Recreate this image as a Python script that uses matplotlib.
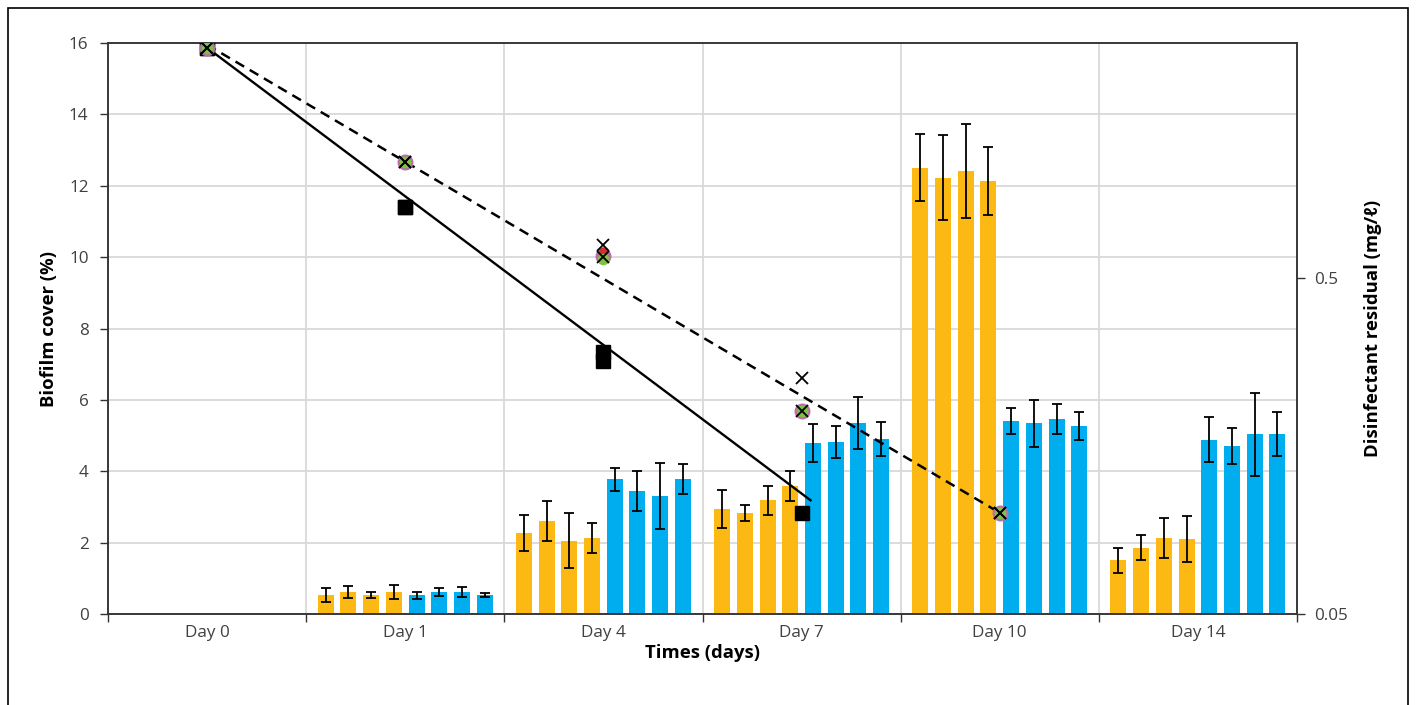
import numpy as np
import matplotlib.pyplot as plt
import matplotlib.ticker as mticker
from matplotlib.patches import Rectangle

plt.rcParams['font.family'] = ['Open Sans', 'DejaVu Sans']

# Datos
days = ['Day 0', 'Day 1', 'Day 4', 'Day 7', 'Day 10', 'Day 14']

# Biofilm cover (%) - 4 naranjas + 4 azules por día (Day 0 sin barras)
orange_vals = [
    [0, 0, 0, 0],
    [0.53, 0.62, 0.53, 0.62],
    [2.27, 2.61, 2.05, 2.13],
    [2.94, 2.83, 3.19, 3.59],
    [12.50, 12.22, 12.41, 12.13],
    [1.51, 1.85, 2.13, 2.10],
]
orange_err = [
    [0, 0, 0, 0],
    [0.20, 0.16, 0.08, 0.19],
    [0.50, 0.56, 0.77, 0.43],
    [0.53, 0.22, 0.41, 0.43],
    [0.94, 1.19, 1.32, 0.96],
    [0.35, 0.35, 0.57, 0.65],
]
blue_vals = [
    [0, 0, 0, 0],
    [0.53, 0.62, 0.62, 0.53],
    [3.78, 3.45, 3.31, 3.78],
    [4.79, 4.82, 5.35, 4.90],
    [5.41, 5.35, 5.46, 5.27],
    [4.88, 4.71, 5.04, 5.04],
]
blue_err = [
    [0, 0, 0, 0],
    [0.10, 0.12, 0.13, 0.05],
    [0.32, 0.56, 0.92, 0.43],
    [0.54, 0.46, 0.72, 0.47],
    [0.36, 0.66, 0.43, 0.39],
    [0.63, 0.51, 1.16, 0.62],
]

# Disinfectant residual (mg/l)
sq_a_x = [0, 1, 2, 3]
sq_a = [2.42, 0.81, 0.301, 0.100]
sq_b_x = [0, 1, 2]
sq_b = [2.42, 0.81, 0.283]
res_x = [0, 1, 2, 3, 4]
pink_res = [2.42, 1.11, 0.581, 0.201, 0.100]
green_res = [2.42, 1.11, 0.570, 0.201, 0.100]
red_res = [2.42, 1.11, 0.601, 0.201, 0.100]
cross_a = [2.42, 1.11, 0.625, 0.252, 0.100]
cross_b = [2.42, 1.11, 0.578, 0.201, 0.100]

# Líneas de tendencia
trend_solid_x = [0, 3.045]
trend_solid_y = [2.42, 0.109]
trend_dash_x = [0, 4]
trend_dash_y = [2.47, 0.100]

c_orange = '#FDB913'
c_blue = '#00AEEF'
grid_c = '#d9d9d9'
txt_c = '#404040'

fig = plt.figure(figsize=(14.16, 7.05), dpi=100)
ax = fig.add_axes([108 / 1416, 1 - 614 / 705, (1297 - 108) / 1416, (614 - 43) / 705])

slot = 0.1146
bw = 0.0806
ekw = dict(ecolor='black', elinewidth=1.3, capsize=3.5, capthick=1.3)
x = np.arange(len(days))
for i in range(len(days)):
    if i == 0:
        continue
    for j in range(4):
        ax.bar(x[i] + (j - 3.5) * slot, orange_vals[i][j], bw, color=c_orange, zorder=2,
               yerr=orange_err[i][j], error_kw=ekw)
        ax.bar(x[i] + (j + 0.5) * slot, blue_vals[i][j], bw, color=c_blue, zorder=2,
               yerr=blue_err[i][j], error_kw=ekw)

ax.set_xlim(-0.5, 5.5)
ax.set_ylim(0, 16)
ax.set_yticks(np.arange(0, 17, 2))
ax.set_xticks(np.arange(-0.5, 5.6, 1))
ax.set_xticks(x, minor=True)
ax.set_xticklabels([])
ax.set_xticklabels(days, minor=True)
ax.tick_params(axis='x', which='major', length=6, width=1, color='#333333', direction='out')
ax.tick_params(axis='x', which='minor', length=0, labelsize=12.3, labelcolor=txt_c, pad=8)
ax.tick_params(axis='y', length=6, width=1, color='#333333', labelsize=12.3, labelcolor=txt_c, pad=8)
ax.grid(True, which='major', color=grid_c, linewidth=1.3, zorder=0)
ax.set_axisbelow(True)
for s in ax.spines.values():
    s.set_color('#333333')
    s.set_linewidth(1.1)
ax.set_xlabel('Times (days)', fontsize=13.3, fontweight='bold', labelpad=2)
ax.set_ylabel('Biofilm cover (%)', fontsize=13.3, fontweight='bold', labelpad=8)

ax2 = ax.twinx()
ax2.set_yscale('log')
ax2.set_ylim(0.05, 2.5)
ax2.plot(trend_solid_x, trend_solid_y, color='black', lw=1.7, zorder=3)
ax2.plot(trend_dash_x, trend_dash_y, color='black', lw=1.8, ls=(0, (4, 2.6)), zorder=3)
ax2.plot(sq_a_x, sq_a, 's', color='black', ms=9.5, zorder=4)
ax2.plot(sq_b_x, sq_b, 's', color='black', ms=9.5, zorder=4)
ax2.plot(res_x, pink_res, 'o', color='#b86fa8', ms=10.5, zorder=5)
ax2.plot(res_x, red_res, 'o', color='#d03030', ms=5, zorder=6)
ax2.plot(res_x, green_res, 'o', color='#7dc242', ms=7.3, zorder=7)
ax2.plot(res_x, cross_b, 'x', color='black', ms=8.5, mew=1.3, zorder=8)
ax2.plot(res_x, cross_a, 'x', color='black', ms=8.5, mew=1.3, zorder=8)
ax2.yaxis.set_major_locator(mticker.FixedLocator([0.05, 0.5]))
ax2.yaxis.set_major_formatter(mticker.FixedFormatter(['0.05', '0.5']))
ax2.yaxis.set_minor_locator(mticker.NullLocator())
ax2.tick_params(axis='y', length=6, width=1, color='#333333', labelsize=12.3, labelcolor=txt_c, pad=6)
for s in ax2.spines.values():
    s.set_color('#333333')
    s.set_linewidth(1.1)
ax2.set_ylabel('Disinfectant residual (mg/ℓ)', fontsize=13.3, fontweight='bold', labelpad=12)

fig.patches.append(Rectangle((8 / 1416, -0.01), 1400 / 1416, 1 - 8 / 705 + 0.01,
                             transform=fig.transFigure, fill=False, edgecolor='black', lw=1.2))

fig.savefig('out.png', dpi=100)
